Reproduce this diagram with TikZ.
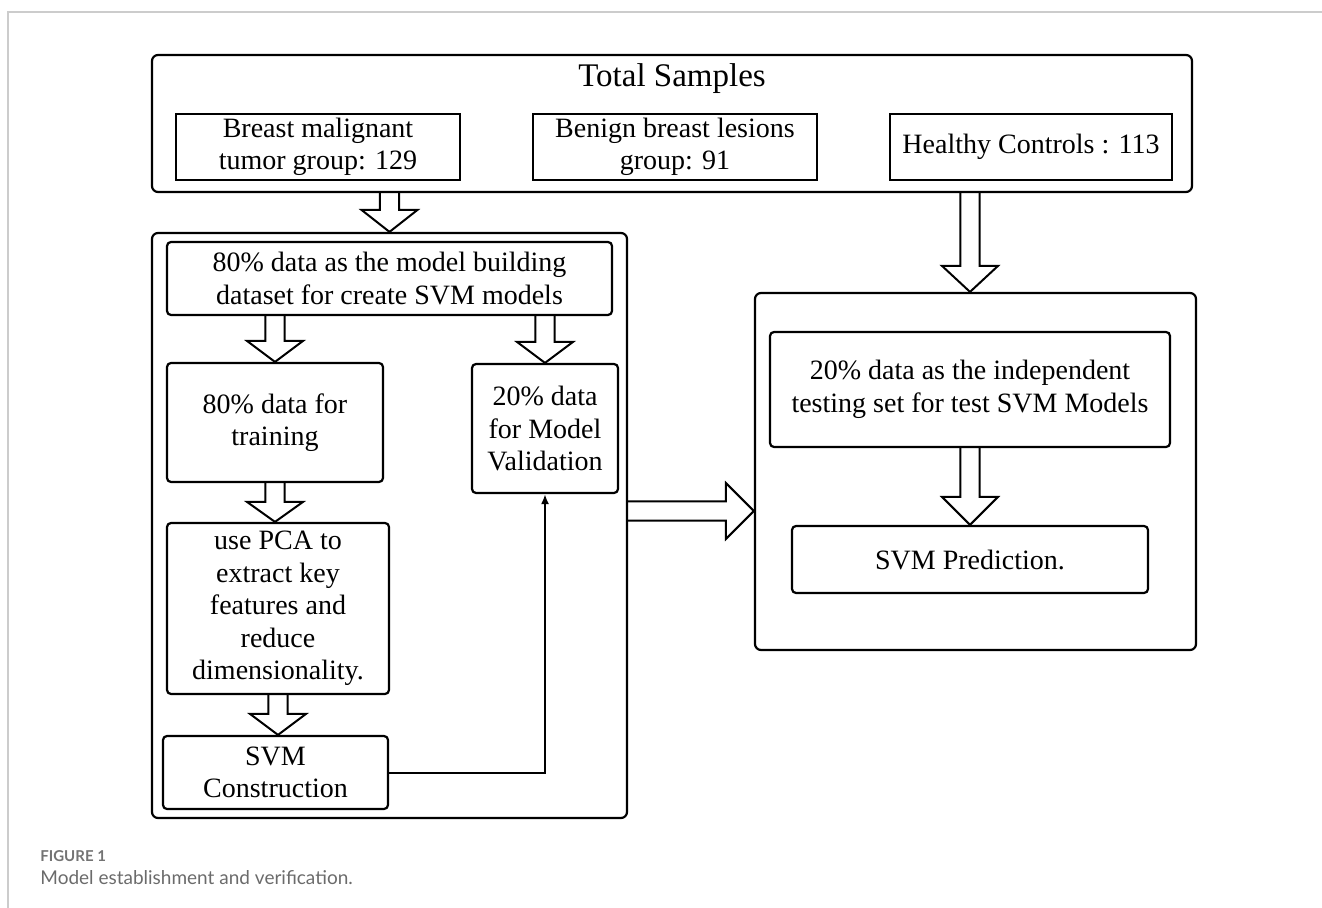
\documentclass[tikz,border=0pt]{standalone}
\usepackage{fontspec}
\setmainfont{Liberation Serif}
\newfontfamily\capfont{Lato}
\usetikzlibrary{calc}
\usetikzlibrary{arrows.meta}
\usetikzlibrary{positioning}

% hollow block arrow between two points, optional head length
\newcommand{\hollowarrow}[3][11pt]{%
  \coordinate (ha-s) at #2;
  \coordinate (ha-e) at #3;
  \coordinate (ha-b) at ($(ha-e)!#1!(ha-s)$);
  \draw[hollow] ($(ha-s)!4.8pt!90:(ha-e)$) -- ($(ha-b)!4.8pt!-90:(ha-s)$)
    -- ($(ha-b)!14pt!-90:(ha-s)$) -- (ha-e) -- ($(ha-b)!14pt!90:(ha-s)$)
    -- ($(ha-b)!4.8pt!90:(ha-s)$) -- ($(ha-s)!4.8pt!-90:(ha-e)$);
}

\tikzset{
  box/.style={draw,line width=1.1pt,rounded corners=2pt,align=center,inner sep=0pt,
    font=\fontsize{14}{16.3}\selectfont},
  sqbox/.style={box,sharp corners},
  group/.style={draw,line width=1.1pt,rounded corners=3pt,inner sep=0pt},
  hollow/.style={draw,line width=1pt,line join=miter},
}

\begin{document}
\begin{tikzpicture}[x=0.5pt,y=-0.5pt]
  \useasboundingbox (0,0) rectangle (1322,908);
  \draw[black!20,line width=0.6pt] (8,908) -- (8,12) -- (1322,12);

  % top block
  \node[group,minimum width=520pt,minimum height=68.5pt](total) at (672,123.5) {};
  \node[anchor=base,font=\fontsize{16.5}{19}\selectfont](title) at (672,87) {Total Samples};
  \node[sqbox,minimum width=142pt,minimum height=33pt](malig) at (318,147) {Breast malignant\\tumor group: 129};
  \node[sqbox,minimum width=142pt,minimum height=33pt](benign) at (675,147) {Benign breast lesions\\group: 91};
  \node[sqbox,minimum width=141pt,minimum height=33pt](healthy) at (1031,147) {Healthy Controls : 113};

  % left block
  \node[group,minimum width=237.5pt,minimum height=292.5pt](leftgrp) at (389.5,525.5) {};
  \node[box,minimum width=222.5pt,minimum height=36.5pt](build) at (389.5,278.5) {80\% data as the model building\\dataset for create SVM models};
  \node[box,minimum width=108pt,minimum height=59.5pt](train) at (275,422.5) {80\% data for\\training};
  \node[box,minimum width=73pt,minimum height=64.5pt](valid) at (545,428.5) {20\% data\\for Model\\Validation};
  \node[box,minimum width=111pt,minimum height=85.5pt](pca) at (278,608.5) {use PCA to\\extract key\\features and\\reduce\\dimensionality.};
  \node[box,minimum width=112.5pt,minimum height=36.5pt](svmcon) at (275.5,772.5) {SVM\\Construction};

  % right block
  \node[group,minimum width=220.5pt,minimum height=178.5pt](rightgrp) at (975.5,471.5) {};
  \node[box,minimum width=200pt,minimum height=57.5pt](indep) at (970,389.5) {20\% data as the independent\\testing set for test SVM Models};
  \node[box,minimum width=178pt,minimum height=33.5pt](pred) at (970,559.5) {SVM Prediction.};

  \coordinate (harrow) at (691,511);

  \hollowarrow{(total.south -| leftgrp.north)}{(leftgrp.north)}
  \hollowarrow[13pt]{(total.south -| indep)}{(rightgrp.north -| indep)}
  \hollowarrow[10.5pt]{(build.south -| train)}{(train.north)}
  \hollowarrow[10.5pt]{(build.south -| valid)}{(valid.north)}
  \hollowarrow[10pt]{(train.south)}{(pca.north -| train)}
  \hollowarrow[10.5pt]{(pca.south)}{(svmcon.north -| pca)}
  \hollowarrow[14pt]{(indep.south)}{(pred.north)}
  \hollowarrow[14pt]{(harrow -| leftgrp.east)}{(harrow -| rightgrp.west)}

  \draw[line width=1pt,-{Latex[length=5pt,width=4pt]}] (svmcon.east) -| (valid.south);

  % caption
  \node[anchor=base west,inner sep=0pt,text=black!55,font=\capfont\bfseries\fontsize{7.5}{10}\selectfont](figlabel) at (40,861) {FIGURE 1};
  \node[anchor=base west,inner sep=0pt,text=black!58,font=\capfont\fontsize{9.5}{11}\selectfont](figcap) at (40,884) {Model establishment and verification.};
\end{tikzpicture}
\end{document}
